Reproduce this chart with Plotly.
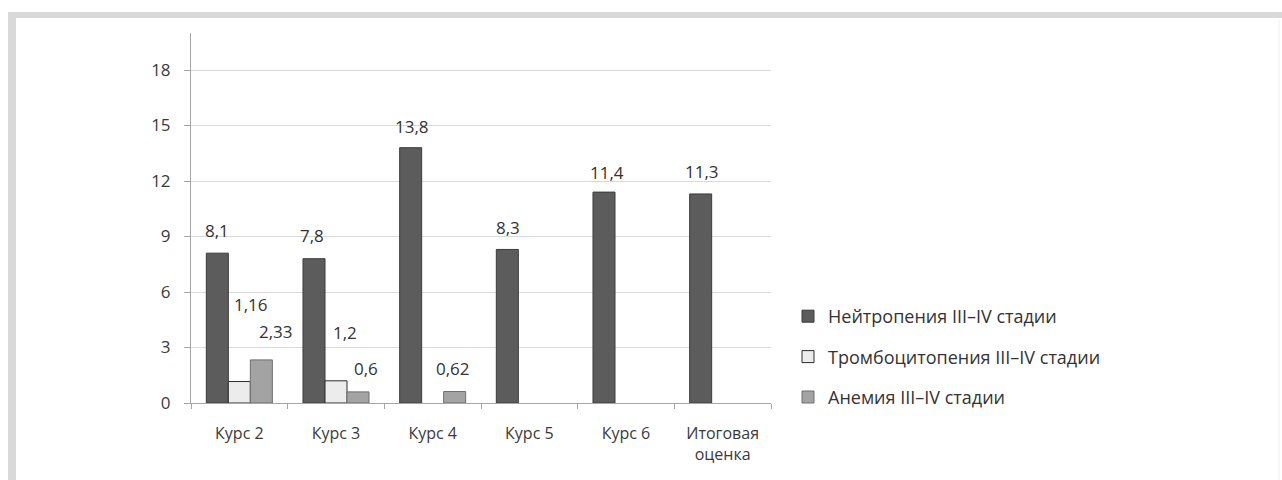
import plotly.graph_objects as go

# Grade III–IV haematological toxicity by course, %
categories = ["Курс 2", "Курс 3", "Курс 4", "Курс 5", "Курс 6", "Итоговая<br>оценка"]
series_names = [
    "Нейтропения III–IV стадии",
    "Тромбоцитопения III–IV стадии",
    "Анемия III–IV стадии",
]
neutropenia = [8.1, 7.8, 13.8, 8.3, 11.4, 11.3]
thrombocytopenia = [1.16, 1.2, None, None, None, None]
anemia = [2.33, 0.6, 0.62, None, None, None]
label_text = {
    0: ["8,1", "7,8", "13,8", "8,3", "11,4", "11,3"],
    1: ["1,16", "1,2", None, None, None, None],
    2: ["2,33", "0,6", "0,62", None, None, None],
}
y_ticks = [0, 3, 6, 9, 12, 15, 18]

values = [neutropenia, thrombocytopenia, anemia]
fills = ["#5c5c5c", "#ececec", "#a3a3a3"]
lines = ["#3c3c3c", "#2e2e2e", "#6e6e6e"]

# label nudges (pixels) relative to each bar's centre / top
label_dx = {
    0: [0, -2, 1, 1, 3, 1],
    1: [12, 9, 0, 0, 0, 0],
    2: [15, 8, -2, 0, 0, 0],
}
label_dy = {
    0: [23, 23, 21, 22, 20, 22],
    1: [77, 48, 0, 0, 0, 0],
    2: [28, 23, 23, 0, 0, 0],
}

W, H = 1282, 480
ML, MR, MT, MB = 191, 511, 33, 77
PW, PH = W - ML - MR, H - MT - MB

fig = go.Figure()
for i, (name, vals) in enumerate(zip(series_names, values)):
    fig.add_trace(go.Bar(
        x=categories, y=vals, name=name,
        marker=dict(color=fills[i], line=dict(color=lines[i], width=1)),
        legendgroup=str(i),
    ))

bar_px = PW / len(categories) * (1 - 0.317) / 3
annotations = []
for i, vals in enumerate(values):
    for j, v in enumerate(vals):
        t = label_text[i][j]
        if v is None or t is None:
            continue
        annotations.append(dict(
            x=categories[j], y=v, xref="x", yref="y", text=t, showarrow=False,
            xshift=(i - 1) * bar_px + label_dx[i][j], yshift=label_dy[i][j],
            yanchor="middle", xanchor="center",
            font=dict(family="Open Sans", size=17, color="#333333"),
        ))


def px_x(p):
    return (p - ML) / PW


def px_y(p):
    return 1 - (p - MT) / PH


# light grey frame around the figure
shapes = [
    dict(type="rect", xref="paper", yref="paper", layer="below",
         x0=px_x(8), x1=px_x(16), y0=px_y(482), y1=px_y(12),
         fillcolor="#d9d9d9", line=dict(width=0)),
    dict(type="rect", xref="paper", yref="paper", layer="below",
         x0=px_x(8), x1=px_x(1284), y0=px_y(18), y1=px_y(12),
         fillcolor="#d9d9d9", line=dict(width=0)),
    dict(type="line", xref="paper", yref="paper", layer="below",
         x0=px_x(1279), x1=px_x(1279), y0=px_y(482), y1=px_y(20),
         line=dict(color="#efefef", width=1)),
]

fig.update_layout(
    width=W, height=H,
    margin=dict(l=ML, r=MR, t=MT, b=MB, autoexpand=False),
    paper_bgcolor="white", plot_bgcolor="white",
    barmode="group", bargap=0.317, bargroupgap=0,
    annotations=annotations, shapes=shapes,
    showlegend=True,
    legend=dict(
        x=px_x(788), y=px_y(298), xanchor="left", yanchor="top",
        font=dict(family="Open Sans", size=18, color="#333333"),
        tracegroupgap=14, itemwidth=30,
        bgcolor="rgba(0,0,0,0)",
    ),
    font=dict(family="Open Sans", color="#404040"),
)
fig.update_xaxes(
    type="category", showgrid=False,
    showline=True, linecolor="#a6a6a6", linewidth=1,
    ticks="outside", tickson="boundaries", ticklen=5, tickcolor="#a6a6a6",
    ticklabelstandoff=16,
    tickfont=dict(family="Open Sans", size=16, color="#3a3a3a"),
)
fig.update_yaxes(
    range=[0, 20], tickvals=y_ticks, ticktext=[str(v) for v in y_ticks],
    showgrid=True, gridcolor="#d9d9d9", gridwidth=1,
    showline=True, linecolor="#a6a6a6", linewidth=1,
    ticks="outside", ticklen=6, tickcolor="#a6a6a6",
    ticklabelstandoff=10,
    tickfont=dict(family="Open Sans", size=17, color="#3a3a3a"),
    zeroline=False,
)

fig.write_html("out.html")
